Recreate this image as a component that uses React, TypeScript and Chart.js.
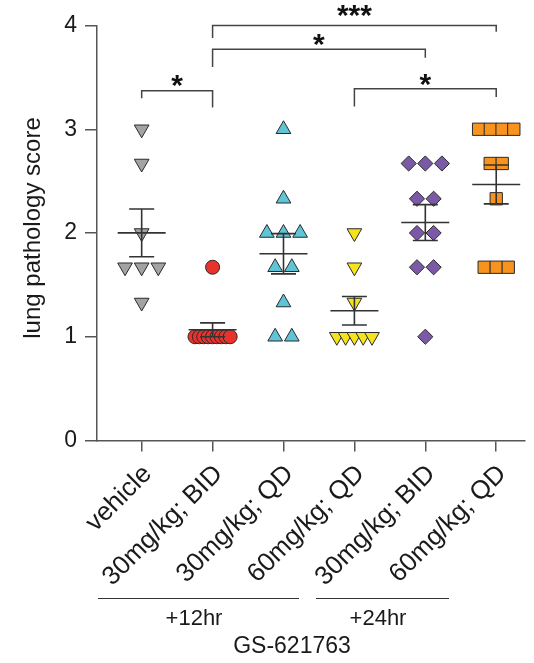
import React, { useEffect, useRef } from 'react';
import { Chart, registerables } from 'chart.js';

Chart.register(...registerables);

// ---------------- data ----------------
const categories = ['vehicle', '30mg/kg; BID', '30mg/kg; QD', '60mg/kg; QD', '30mg/kg; BID', '60mg/kg; QD'];

const vehicleScores = [3, 2.67, 2, 1.67, 1.67, 1.67, 1.33];
const bid30h12Scores = [1.67, 1, 1, 1, 1, 1, 1, 1, 1, 1];
const qd30h12Scores = [3, 2.33, 2, 2, 2, 1.67, 1.67, 1.33, 1, 1];
const qd60h12Scores = [2, 1.67, 1.33, 1, 1, 1, 1, 1];
const bid30h24Scores = [2.67, 2.67, 2.67, 2.33, 2.33, 2, 2, 1.67, 1.67, 1];
const qd60h24Scores = [3, 3, 3, 3, 2.67, 2.67, 2.33, 1.67, 1.67, 1.67];

const yTicks = [0, 1, 2, 3, 4];
const yTitle = 'lung pathology score';

// significance brackets (category indices, score levels)
const bracketFrom = [0, 1, 1, 3];
const bracketTo = [1, 4, 5, 5];
const bracketLevel = [3.37, 3.77, 4.0, 3.39];
const bracketLeftEnd = [3.3, 3.6, 3.88, 3.22];
const bracketRightEnd = [3.21, 3.69, 3.94, 3.31];
const bracketLabels = ['*', '*', '***', '*'];

const timeGroupLabels = ['+12hr', '+24hr'];
const compoundLabel = 'GS-621763';

// ---------------- layout / style ----------------
const W = 534;
const H = 663;
const PLOT = { left: 97, top: 25.5, bottom: 440.5, right: 534 };
const X_MIN = -0.63;
const X_MAX = 5.396;
const MAX_SPAN = 36;
const FONT = '"Liberation Sans", Arial, Helvetica, sans-serif';
const AXIS_COLOR = '#555555';
const TEXT_COLOR = '#1a1a1a';

const markerStyles = [
  { style: 'triangle', rotation: 180, radius: 8.5, fill: '#a3a3a3', spacing: 17 },
  { style: 'circle', rotation: 0, radius: 7, fill: '#e8322b', spacing: 15 },
  { style: 'triangle', rotation: 0, radius: 8.5, fill: '#5ec4d6', spacing: 17 },
  { style: 'triangle', rotation: 180, radius: 8.5, fill: '#f5e41d', spacing: 17 },
  { style: 'rectRot', rotation: 0, radius: 7.6, fill: '#7b59a6', spacing: 17 },
  { style: 'rect', rotation: 0, radius: 8.7, fill: '#f7931e', spacing: 12.3 },
];
const bracketLabelGap = [4, 3.5, 9, 3];
const timeGroupLines = [
  { x1: 98, x2: 299 },
  { x1: 316, x2: 449 },
];
const timeGroupTextPos = [
  { x: 194, y: 619 },
  { x: 378, y: 619 },
];

const groups = [vehicleScores, bid30h12Scores, qd30h12Scores, qd60h12Scores, bid30h24Scores, qd60h24Scores];

function spread(values: number[], center: number, spacingPx: number) {
  const pxPerUnit = (PLOT.right - PLOT.left) / (X_MAX - X_MIN);
  const counts = new Map<number, number>();
  values.forEach((v) => counts.set(v, (counts.get(v) || 0) + 1));
  const seen = new Map<number, number>();
  return values.map((v) => {
    const k = counts.get(v) || 1;
    const j = seen.get(v) || 0;
    seen.set(v, j + 1);
    const sp = k > 1 ? Math.min(spacingPx, MAX_SPAN / (k - 1)) : 0;
    return { x: center + ((j - (k - 1) / 2) * sp) / pxPerUnit, y: v };
  });
}

function meanSem(values: number[]) {
  const n = values.length;
  const m = values.reduce((a, b) => a + b, 0) / n;
  const sd = Math.sqrt(values.reduce((a, b) => a + (b - m) * (b - m), 0) / (n - 1));
  return { mean: m, sem: sd / Math.sqrt(n) };
}

const overlayPlugin = {
  id: 'overlay',
  afterDatasetsDraw(chart: any) {
    const ctx = chart.ctx;
    const xs = chart.scales.x;
    const ys = chart.scales.y;
    ctx.save();
    ctx.strokeStyle = '#333333';
    ctx.lineWidth = 1.6;
    groups.forEach((vals, i) => {
      const { mean, sem } = meanSem(vals);
      const xc = xs.getPixelForValue(i);
      const ym = ys.getPixelForValue(mean);
      const yt = ys.getPixelForValue(mean + sem);
      const yb = ys.getPixelForValue(mean - sem);
      ctx.beginPath();
      ctx.moveTo(xc - 24, ym);
      ctx.lineTo(xc + 24, ym);
      ctx.moveTo(xc, yt);
      ctx.lineTo(xc, yb);
      ctx.moveTo(xc - 12.5, yt);
      ctx.lineTo(xc + 12.5, yt);
      ctx.moveTo(xc - 12.5, yb);
      ctx.lineTo(xc + 12.5, yb);
      ctx.stroke();
    });
    ctx.restore();
  },
  afterDraw(chart: any) {
    const ctx = chart.ctx;
    const xs = chart.scales.x;
    const ys = chart.scales.y;
    ctx.save();

    // brackets
    ctx.strokeStyle = '#444444';
    ctx.lineWidth = 1.5;
    ctx.fillStyle = '#111111';
    ctx.font = `bold 30px ${FONT}`;
    ctx.textAlign = 'center';
    ctx.textBaseline = 'alphabetic';
    bracketFrom.forEach((from, i) => {
      const x1 = xs.getPixelForValue(from);
      const x2 = xs.getPixelForValue(bracketTo[i]);
      const yl = ys.getPixelForValue(bracketLevel[i]);
      const yL = ys.getPixelForValue(bracketLeftEnd[i]);
      const yR = ys.getPixelForValue(bracketRightEnd[i]);
      ctx.beginPath();
      ctx.moveTo(x1, yL);
      ctx.lineTo(x1, yl);
      ctx.lineTo(x2, yl);
      ctx.lineTo(x2, yR);
      ctx.stroke();
      const m = ctx.measureText(bracketLabels[i]);
      const bottom = yl - bracketLabelGap[i];
      ctx.fillText(bracketLabels[i], (x1 + x2) / 2, bottom - m.actualBoundingBoxDescent);
    });

    // y title
    ctx.save();
    ctx.translate(40, 228);
    ctx.rotate(-Math.PI / 2);
    ctx.font = `24px ${FONT}`;
    ctx.fillStyle = TEXT_COLOR;
    ctx.textAlign = 'center';
    ctx.textBaseline = 'alphabetic';
    ctx.fillText(yTitle, 0, 0);
    ctx.restore();

    // rotated category labels
    ctx.font = `26px ${FONT}`;
    ctx.fillStyle = TEXT_COLOR;
    categories.forEach((label, i) => {
      const x = xs.getPixelForValue(i);
      ctx.save();
      ctx.translate(x + 6, 470);
      ctx.rotate(-Math.PI / 4);
      ctx.textAlign = 'right';
      ctx.textBaseline = 'middle';
      ctx.fillText(label, 0, 0);
      ctx.restore();
    });

    // time group lines + labels
    ctx.strokeStyle = '#333333';
    ctx.lineWidth = 1;
    timeGroupLines.forEach((ln) => {
      ctx.beginPath();
      ctx.moveTo(ln.x1, 598.5);
      ctx.lineTo(ln.x2, 598.5);
      ctx.stroke();
    });
    ctx.font = `22px ${FONT}`;
    ctx.textAlign = 'center';
    ctx.textBaseline = 'middle';
    timeGroupLabels.forEach((t, i) => {
      ctx.fillText(t, timeGroupTextPos[i].x, timeGroupTextPos[i].y);
    });
    ctx.font = `23px ${FONT}`;
    ctx.fillText(compoundLabel, 292, 647);

    ctx.restore();
  },
};

export default function App() {
  const canvasRef = useRef<HTMLCanvasElement | null>(null);

  useEffect(() => {
    const canvas = canvasRef.current;
    if (!canvas) return;
    const datasets = groups.map((vals, i) => {
      const s = markerStyles[i];
      return {
        label: categories[i],
        data: spread(vals, i, s.spacing),
        pointStyle: s.style,
        pointRotation: s.rotation,
        pointRadius: s.radius,
        pointHoverRadius: s.radius,
        pointBackgroundColor: s.fill,
        pointBorderColor: '#2a2a2a',
        pointBorderWidth: 1,
        showLine: false,
        clip: false,
      };
    });

    const chart = new Chart(canvas, {
      type: 'scatter',
      data: { datasets } as any,
      options: {
        responsive: false,
        animation: false,
        events: [],
        layout: { padding: { top: PLOT.top, left: 0, right: 0, bottom: 0 } },
        plugins: {
          legend: { display: false },
          tooltip: { enabled: false },
        },
        scales: {
          x: {
            type: 'linear',
            min: X_MIN,
            max: X_MAX,
            afterBuildTicks: (s: any) => {
              s.ticks = categories.map((_, i) => ({ value: i }));
            },
            afterFit: (s: any) => {
              s.height = H - PLOT.bottom;
            },
            ticks: { display: false },
            grid: {
              drawOnChartArea: false,
              drawTicks: true,
              tickLength: 11,
              color: AXIS_COLOR,
              lineWidth: 1.5,
            },
            border: { display: true, color: AXIS_COLOR, width: 1.5 },
          },
          y: {
            type: 'linear',
            min: 0,
            max: 4,
            afterBuildTicks: (s: any) => {
              s.ticks = yTicks.map((v) => ({ value: v }));
            },
            afterFit: (s: any) => {
              s.width = PLOT.left;
            },
            ticks: {
              font: { size: 23, family: FONT },
              color: TEXT_COLOR,
              padding: 8,
            },
            grid: {
              drawOnChartArea: false,
              drawTicks: true,
              tickLength: 12,
              color: AXIS_COLOR,
              lineWidth: 1.5,
            },
            border: { display: true, color: AXIS_COLOR, width: 1.5 },
          },
        },
      } as any,
      plugins: [overlayPlugin],
    });
    return () => chart.destroy();
  }, []);

  return (
    <div style={{ position: 'absolute', left: 0, top: 0, width: W, height: H, background: '#fff' }}>
      <canvas ref={canvasRef} width={W} height={H} style={{ display: 'block', width: W, height: H }} />
    </div>
  );
}
